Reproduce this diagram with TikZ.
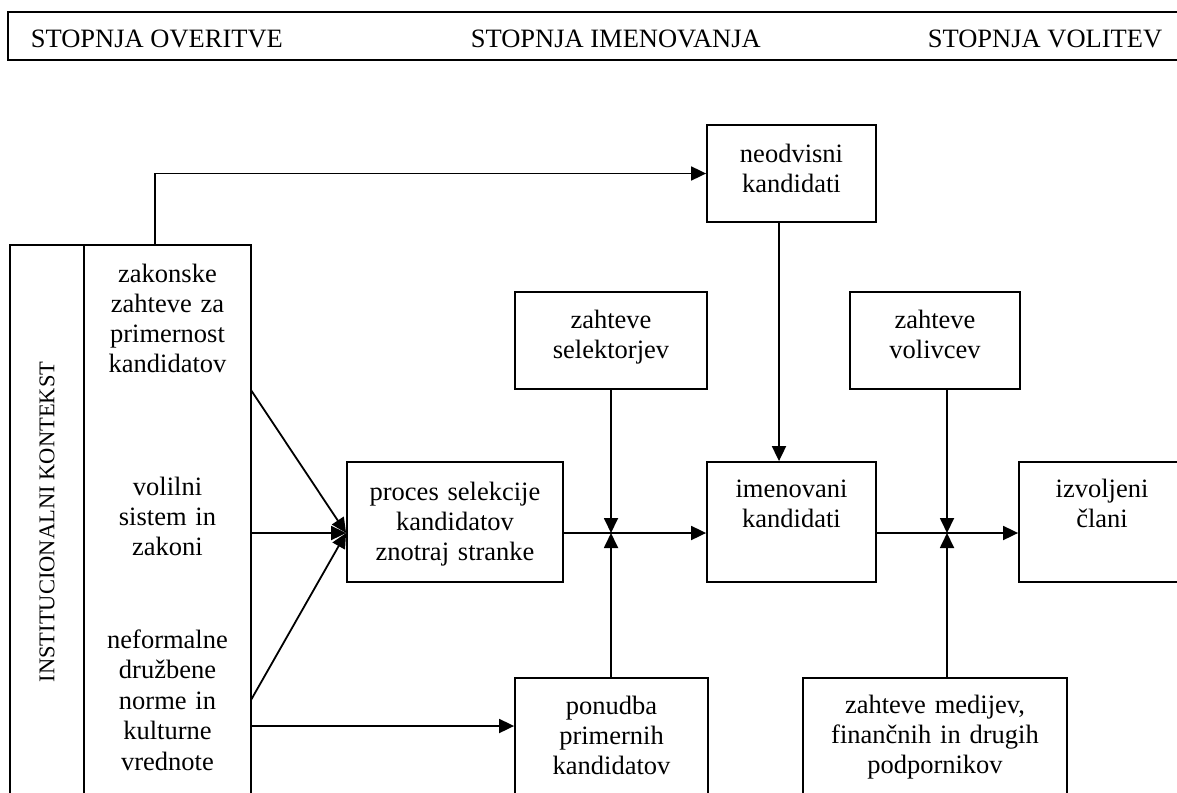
\documentclass[tikz,border=0pt]{standalone}
\usepackage{fontspec}
\setmainfont{Liberation Serif}
\usetikzlibrary{arrows.meta}
\begin{document}
\begin{tikzpicture}[x=1pt,y=-1pt,line width=1.8pt,
  box/.style={draw,inner sep=0pt,line width=1.8pt},
  txt/.style={align=center,text width=280pt,anchor=base,inner sep=0pt,font=\fontsize{26.5pt}{30pt}\selectfont},
  ltxt/.style={anchor=base west,inner sep=0pt,font=\fontsize{26.5pt}{30pt}\selectfont},
  arr/.style={-{Triangle[length=15pt,width=14pt]},line width=1.8pt}]
\useasboundingbox (0,0) rectangle (1177,792);
\clip (0,0) rectangle (1177,792);
% top bar
\node[box,minimum width=1182pt,minimum height=48pt] (bar) at (599,36) {};
\node[ltxt] (s1) at (30,48) {STOPNJA OVERITVE};
\node[ltxt] (s2) at (470,48) {STOPNJA IMENOVANJA};
\node[ltxt] (s3) at (927,48) {STOPNJA VOLITEV};
% institutional box
\node[box,minimum width=241pt,minimum height=555pt] (inst) at (130.5,522.5) {};
\coordinate (d1) at (84,245);
\draw (d1) -- (d1 |- inst.south);
\node[rotate=90,inner sep=0pt,font=\fontsize{22.5pt}{26pt}\selectfont] (instT) at (47,522) {INSTITUCIONALNI KONTEKST};
\node[txt] (zak) at (167.5,282) {zakonske\\zahteve za\\primernost\\kandidatov};
\node[txt] (vol) at (167.5,495) {volilni\\sistem in\\zakoni};
\node[txt,font=\fontsize{26.5pt}{30.5pt}\selectfont] (nef) at (167.5,648) {neformalne\\družbene\\norme in\\kulturne\\vrednote};
% boxes
\node[box,minimum width=169pt,minimum height=97pt] (neod) at (791.5,173.5) {};
\node[txt] (neodT) at (791.5,162) {neodvisni\\kandidati};
\node[box,minimum width=192pt,minimum height=97pt] (selek) at (611,340.5) {};
\node[txt] (selekT) at (611,328) {zahteve\\selektorjev};
\node[box,minimum width=170pt,minimum height=97pt] (voliv) at (935,340.5) {};
\node[txt] (volivT) at (935,328) {zahteve\\volivcev};
\node[box,minimum width=216pt,minimum height=120pt] (proces) at (455,522) {};
\node[txt] (procesT) at (455,500) {proces selekcije\\kandidatov\\znotraj stranke};
\node[box,minimum width=169pt,minimum height=120pt] (imen) at (791.5,522) {};
\node[txt] (imenT) at (791.5,497) {imenovani\\kandidati};
\node[box,minimum width=166pt,minimum height=120pt] (izv) at (1102,522) {};
\node[txt] (izvT) at (1102,497) {izvoljeni\\člani};
\node[box,minimum width=193pt,minimum height=130pt] (ponud) at (611.5,743) {};
\node[txt] (ponudT) at (611.5,714) {ponudba\\primernih\\kandidatov};
\node[box,minimum width=264pt,minimum height=130pt] (medij) at (935,743) {};
\node[txt] (medijT) at (935,713) {zahteve medijev,\\finančnih in drugih\\podpornikov};
% connector points
\coordinate (t1) at (155,245);
\coordinate (a1) at (251,390);
\coordinate (a3) at (251,700);
\coordinate (a4) at (251,726);
\coordinate (j1) at (611,533);
\coordinate (j2) at (947,533);
\coordinate (n1) at (779,222);
% connectors
\draw[arr] (t1) |- (neod.west);
\draw[arr] (a1) -- (proces.west |- j1);
\draw[arr] (inst.east |- j1) -- (proces.west |- j1);
\draw[arr] (a3) -- (proces.west |- j1);
\draw[arr] (a4) -- (ponud.west |- a4);
\draw[arr] (selek.south -| j1) -- (j1);
\draw[arr] (ponud.north -| j1) -- (j1);
\draw[arr] (proces.east |- j1) -- (imen.west |- j1);
\draw[arr] (n1) -- (imen.north -| n1);
\draw[arr] (voliv.south -| j2) -- (j2);
\draw[arr] (medij.north -| j2) -- (j2);
\draw[arr] (imen.east |- j2) -- (izv.west |- j2);
\end{tikzpicture}
\end{document}
